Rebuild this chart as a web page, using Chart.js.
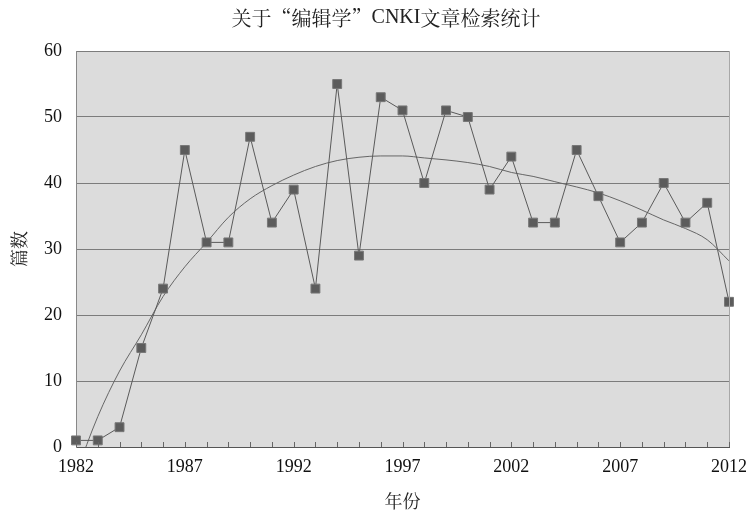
<!DOCTYPE html>
<html>
<head>
<meta charset="utf-8">
<script src="https://cdn.jsdelivr.net/npm/chart.js@4"></script>
<style>
  html, body { margin: 0; padding: 0; background: #fff; }
  #wrap { width: 756px; height: 516px; }
</style>
</head>
<body>
<div id="wrap"><canvas id="c"></canvas></div>
<script>
const years = ["1982","1983","1984","1985","1986","1987","1988","1989","1990","1991",
               "1992","1993","1994","1995","1996","1997","1998","1999","2000","2001",
               "2002","2003","2004","2005","2006","2007","2008","2009","2010","2011","2012"];
const counts = [1, 1, 3, 15, 24, 45, 31, 31, 47, 34,
                39, 24, 55, 29, 53, 51, 40, 51, 50, 39,
                44, 34, 34, 45, 38, 31, 34, 40, 34, 37, 22];
// trend line (starts below 0, clipped at the axis)
const trend = [-4, 4.6, 11.5, 17, 22.8, 27.3, 31, 34.8, 37.6, 39.6,
               41.2, 42.5, 43.4, 43.9, 44.1, 44.1, 43.8, 43.5, 43.1, 42.5,
               41.6, 41, 40.2, 39.4, 38.5, 37.3, 35.9, 34.4, 33.1, 31.4, 28.2];
const yTicks = [0, 10, 20, 30, 40, 50, 60];
const labelEvery = 5;

// title pieces: quotes in a CJK font so they are full width
const titleParts = [["关于", "cjk"], ["“", "cjk"], ["编辑学", "cjk"], ["”", "cjk"],
                    ["CNKI", "lat"], ["文章检索统计", "cjk"]];
const serif = '"Liberation Serif", "Noto Serif CJK SC", "Noto Sans CJK SC", serif';
const cjk = '"Noto Serif CJK SC", "Noto Sans CJK SC", serif';

const chartDecor = {
    id: "chartDecor",
    beforeDraw(chart) {
        const {ctx, chartArea: a} = chart;
        ctx.save();
        ctx.fillStyle = "#dcdcdc";
        ctx.fillRect(a.left, a.top, a.right - a.left, a.bottom - a.top);
        ctx.restore();
    },
    afterDatasetsDraw(chart) {
        const {ctx, chartArea: a, scales} = chart;
        ctx.save();
        // right border
        ctx.strokeStyle = "#a8a8a8";
        ctx.lineWidth = 1;
        ctx.beginPath();
        ctx.moveTo(a.right + 0.5, a.top);
        ctx.lineTo(a.right + 0.5, a.bottom);
        ctx.stroke();
        // small year ticks pointing up from the x axis
        ctx.strokeStyle = "#666";
        ctx.beginPath();
        years.forEach((y, i) => {
            const x = Math.round(scales.x.getPixelForValue(i)) + 0.5;
            ctx.moveTo(x, a.bottom);
            ctx.lineTo(x, a.bottom - 5);
        });
        ctx.stroke();
        // title
        ctx.fillStyle = "#222";
        ctx.textBaseline = "middle";
        ctx.textAlign = "left";
        const fontOf = k => (k === "cjk" ? "20px " + cjk : "20px " + serif);
        let total = 0;
        titleParts.forEach(([t, k]) => { ctx.font = fontOf(k); total += ctx.measureText(t).width; });
        let x = 386 - total / 2;
        titleParts.forEach(([t, k]) => {
            ctx.font = fontOf(k);
            ctx.fillText(t, x, 18);
            x += ctx.measureText(t).width;
        });
        ctx.restore();
    }
};

new Chart(document.getElementById("c"), {
    type: "line",
    data: {
        labels: years,
        datasets: [{
            label: "篇数",
            data: counts,
            borderColor: "#5a5a5a",
            borderWidth: 1,
            pointStyle: "rect",
            pointRadius: 6.3,
            pointBackgroundColor: "#5c5c5c",
            pointBorderColor: "#777",
            pointBorderWidth: 1,
            tension: 0
        }, {
            label: "趋势",
            data: trend,
            borderColor: "#666",
            borderWidth: 1,
            pointRadius: 0,
            cubicInterpolationMode: "monotone"
        }]
    },
    options: {
        responsive: true,
        maintainAspectRatio: false,
        animation: false,
        layout: {padding: {left: 0, right: 25, top: 51, bottom: 0}},
        plugins: {
            legend: {display: false},
            title: {display: false},
            tooltip: {enabled: false}
        },
        scales: {
            x: {
                offset: false,
                grid: {display: false, drawTicks: false},
                border: {display: true, color: "#555", width: 1},
                ticks: {
                    autoSkip: false,
                    maxRotation: 0,
                    padding: 9,
                    color: "#111",
                    font: {family: serif, size: 18},
                    callback: (v, i) => (i % labelEvery === 0 ? years[i] : "")
                },
                title: {
                    display: true,
                    text: "年份",
                    color: "#222",
                    font: {family: serif, size: 18},
                    padding: {top: 0, bottom: 2}
                },
                afterFit: s => { s.height = 69; }
            },
            y: {
                min: 0,
                max: 60,
                grid: {color: "#7c7c7c", lineWidth: 1, drawTicks: false},
                border: {display: true, color: "#888", width: 1},
                ticks: {
                    stepSize: 10,
                    padding: 14,
                    color: "#111",
                    font: {family: serif, size: 18},
                    callback: v => (yTicks.includes(v) ? v : "")
                },
                title: {
                    display: true,
                    text: "篇数",
                    color: "#222",
                    font: {family: serif, size: 18},
                    padding: {top: 10, bottom: 0}
                },
                afterFit: s => { s.width = 76; }
            }
        }
    },
    plugins: [chartDecor]
});
</script>
</body>
</html>
